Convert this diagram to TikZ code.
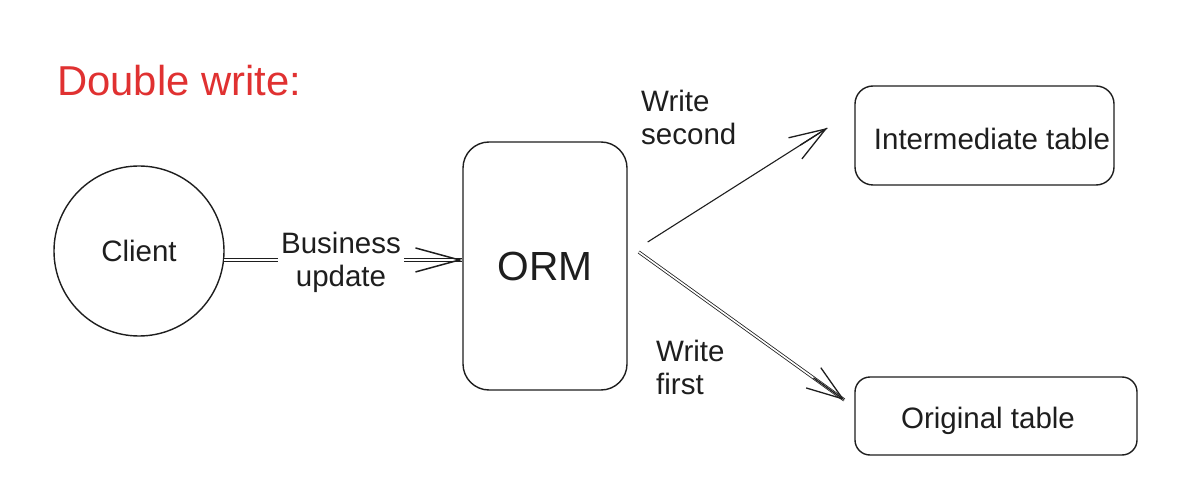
\documentclass[tikz,border=0pt]{standalone}
\usepackage{fontspec}
\setmainfont{Liberation Sans}
\usetikzlibrary{arrows.meta,calc}
\definecolor{ink}{HTML}{1E1E1E}
\definecolor{xred}{HTML}{E03131}
\begin{document}
\begin{tikzpicture}[x=1pt,y=-1pt,
  every node/.style={text=ink},
  lbl/.style={font=\fontsize{29.5}{33}\selectfont, align=left, inner sep=0pt},
  boxtxt/.style={font=\fontsize{29.5}{34}\selectfont},
  shape box/.style={draw=ink, line width=1.4pt, rounded corners=#1},
  conn/.style={draw=ink, line width=1.1pt},
  dconn/.style={draw=ink, line width=0.8pt, double=white, double distance=1.6pt},
  tip/.style={draw=ink, line width=1.3pt, -{Straight Barb[length=36pt,width=25pt]}},
  htip/.style={draw=ink, line width=1.5pt, -{Straight Barb[length=44pt,width=24pt]}},
]
\useasboundingbox (0,0) rectangle (1177,502);
\fill[white] (0,0) rectangle (1177,502);

\node[text=xred, font=\fontsize{41.8}{48}\selectfont, anchor=west, inner sep=0pt] (title) at (57,81) {Double write:};

\node[draw=ink, line width=1.4pt, circle, minimum size=170pt, boxtxt] (client) at (139,251) {Client};

\node[shape box=26pt, minimum width=164pt, minimum height=248pt, font=\fontsize{40.7}{46}\selectfont] (orm) at (545,266) {ORM};

\node[shape box=18pt, minimum width=259pt, minimum height=99pt, boxtxt] (inter) at (984.5,135.5) {};
\node[boxtxt, inner sep=0pt] (intertxt) at (992,139) {Intermediate table};

\node[shape box=15pt, minimum width=282pt, minimum height=78pt, boxtxt] (orig) at (996,416) {};
\node[boxtxt, inner sep=0pt] (origtxt) at (988,421) {Original table};

% Client -> ORM
\coordinate (c1) at (client.-6);
\coordinate (c2) at (c1 -| orm.west);
\draw[dconn] (c1) -- (c2);
\node[lbl, fill=white, align=center, inner sep=3pt] (bu) at (341,262) {Business\\update};
\draw[htip] ($(c2)+(-2,0)$) -- (c2);

% ORM -> Intermediate
\coordinate (a1) at ($(orm.east)+(20,-24)$);
\coordinate (a2) at ($(inter.west)+(-27,-7.5)$);
\draw[conn] (a1) -- (a2);
\draw[tip] ($(a1)!0.85!(a2)$) -- (a2);
\node[lbl, anchor=north west] (ws) at (641,90) {Write\\second};

% ORM -> Original
\coordinate (b1) at ($(orm.east)+(11,-14)$);
\coordinate (b2) at ($(orig.west)+(-10,-16)$);
\draw[dconn] (b1) -- (b2);
\draw[tip] ($(b1)!0.85!(b2)$) -- (b2);
\node[lbl, anchor=north west] (wf) at (656,340) {Write\\first};
\end{tikzpicture}
\end{document}
